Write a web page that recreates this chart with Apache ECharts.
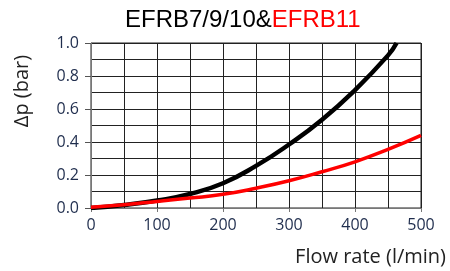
<!DOCTYPE html>
<html>
<head>
<meta charset="utf-8">
<script src="https://cdn.jsdelivr.net/npm/echarts@6/dist/echarts.min.js"></script>
<style>html,body{margin:0;padding:0;background:#fff}#c{width:450px;height:271px}</style>
</head>
<body>
<div id="c"></div>
<script>
// Flow rate (l/min)
var flowBlack = [0, 50, 100, 150, 200, 250, 300, 350, 400, 450, 463];
var dpBlack   = [0, 0.018, 0.045, 0.085, 0.15, 0.255, 0.385, 0.535, 0.715, 0.925, 1.0];
var flowRed = [0, 50, 100, 150, 200, 250, 300, 350, 400, 450, 500];
var dpRed   = [0.005, 0.02, 0.04, 0.06, 0.083, 0.12, 0.165, 0.22, 0.28, 0.355, 0.44];
var titleBlack = 'EFRB7/9/10&';
var titleRed = 'EFRB11';
var xName = 'Flow rate (l/min)';
var yName = 'Δp (bar)';

function pairs(xs, ys){ return xs.map(function(x,i){ return [x, ys[i]]; }); }

var chart = echarts.init(document.getElementById('c'), null, {renderer:'canvas'});
var labelColor = '#1f2d4d';
chart.setOption({
  animation: false,
  title: {
    text: '{b|' + titleBlack + '}{r|' + titleRed + '}',
    left: 120, top: 3,
    textStyle: {
      fontWeight: 'normal',
      rich: {
        b: {fontFamily: 'Liberation Sans', fontSize: 24, fontWeight: 'normal', color: '#000'},
        r: {fontFamily: 'Liberation Sans', fontSize: 24, fontWeight: 'normal', color: '#ff0000'}
      }
    }
  },
  grid: {left: 91, right: 29, top: 43, bottom: 63, show: true, borderColor: '#222', borderWidth: 1},
  xAxis: {
    type: 'value', min: 0, max: 500, interval: 100,
    name: xName, nameLocation: 'end', nameGap: 25,
    nameTextStyle: {fontFamily: 'Open Sans', fontSize: 20, color: '#222', align: 'right', verticalAlign: 'top', padding: [39, 0, 0, 0]},
    axisLine: {show: true, lineStyle: {color: '#777'}},
    axisTick: {show: true, inside: false, length: 4, lineStyle: {color: '#777'}},
    axisLabel: {fontFamily: 'Open Sans', fontSize: 16, color: labelColor, margin: 9},
    splitLine: {show: true, lineStyle: {color: '#222', width: 1}},
    minorTick: {show: false, splitNumber: 2},
    minorSplitLine: {show: true, lineStyle: {color: '#222', width: 1}}
  },
  yAxis: {
    type: 'value', min: 0, max: 1, interval: 0.2,
    axisLine: {show: true, lineStyle: {color: '#777'}},
    axisTick: {show: true, inside: false, length: 6, lineStyle: {color: '#555'}},
    axisLabel: {fontFamily: 'Open Sans', fontSize: 16, color: labelColor, margin: 12,
      formatter: function(v){ return v.toFixed(1); }},
    splitLine: {show: true, lineStyle: {color: '#222', width: 1}},
    minorTick: {show: false, splitNumber: 2},
    minorSplitLine: {show: true, lineStyle: {color: '#222', width: 1}}
  },
  graphic: [{
    type: 'text', x: 22, y: 91, rotation: Math.PI/2,
    style: {text: yName, font: '20px "Open Sans"', fill: '#222', align: 'center', verticalAlign: 'middle'}
  }],
  series: [
    {type: 'line', data: pairs(flowBlack, dpBlack), smooth: true, symbol: 'none',
      lineStyle: {color: '#000', width: 4.5}, z: 3},
    {type: 'line', data: pairs(flowRed, dpRed), smooth: true, symbol: 'none',
      lineStyle: {color: '#ff0000', width: 3.5}, z: 4}
  ]
});
</script>
</body>
</html>
